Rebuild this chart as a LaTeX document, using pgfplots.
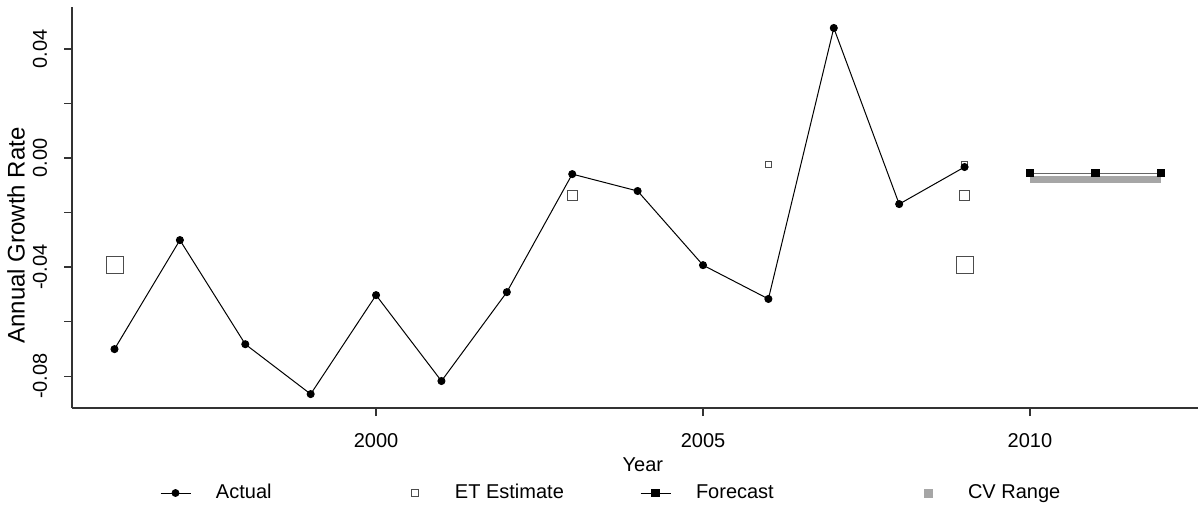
\documentclass[border=0pt]{standalone}
\usepackage{fontspec}
\setmainfont{Liberation Sans}
\usepackage{pgfplots}
\pgfplotsset{compat=1.18}
\definecolor{cvgray}{RGB}{166,166,166}
\begin{document}
\fontsize{10pt}{12pt}\selectfont
\begin{tikzpicture}
\useasboundingbox (-36pt,-51pt) rectangle (563pt,204pt);
\begin{axis}[
  at={(0,0)}, anchor=south west,
  scale only axis, width=563pt, height=200.5pt,
  xmin=1995.35, xmax=2012.57, ymin=-0.0917, ymax=0.0554,
  axis x line=bottom, axis y line=left,
  axis line style={-, black!80, line width=0.8pt},
  tick align=outside, major tick length=4pt,
  tick style={black!80, line width=0.6pt},
  scaled y ticks=false, scaled x ticks=false,
  xtick={2000,2005,2010}, xticklabels={2000,2005,2010},
  ytick={-0.08,-0.06,-0.04,-0.02,0,0.02,0.04},
  yticklabels={-0.08,{},-0.04,{},0.00,{},0.04},
  xticklabel style={anchor=center, inner sep=0pt, yshift=-12.5pt},
  yticklabel style={anchor=center, inner sep=0pt, xshift=-12pt, rotate=90},
  every axis y label/.style={at={(axis description cs:0,0.43)}, xshift=-28pt, rotate=90, anchor=center, font=\fontsize{12pt}{14pt}\selectfont},
  every axis x label/.style={at={(axis description cs:0.507,0)}, yshift=-28.5pt, anchor=center},
  xlabel={Year}, ylabel={Annual Growth Rate},
  clip=false,
  legend columns=4,
  legend style={draw=none, fill=none, inner sep=0pt, outer sep=0pt,
    at={(0,0)}, anchor=west, xshift=44pt, yshift=-42.5pt,
    nodes={inner sep=0pt},
    /tikz/every odd column/.style={column sep=12.5pt},
    /tikz/every even column/.style={column sep=0pt}},
]
% legend entries
\addlegendimage{legend image code/.code={
  \path[draw=none, fill=none] (0pt,-4pt) rectangle (15pt,4pt);
  \draw[black, line width=0.5pt] (0pt,0pt) -- (15pt,0pt);
  \fill[black] (7.5pt,0pt) circle (1.75pt);}}
\addlegendentry{\makebox[92pt][l]{Actual}}
\addlegendimage{legend image code/.code={
  \path[draw=none, fill=none] (0pt,-4pt) rectangle (15pt,4pt);
  \draw[black!70, line width=0.5pt, fill=white] (5.75pt,-1.75pt) rectangle (9.25pt,1.75pt);}}
\addlegendentry{\makebox[92.5pt][l]{ET Estimate}}
\addlegendimage{legend image code/.code={
  \path[draw=none, fill=none] (0pt,-4pt) rectangle (15pt,4pt);
  \draw[black, line width=0.5pt] (0pt,0pt) -- (15pt,0pt);
  \fill[black] (5.65pt,-1.85pt) rectangle (9.35pt,1.85pt);}}
\addlegendentry{\makebox[108.5pt][l]{Forecast}}
\addlegendimage{legend image code/.code={
  \path[draw=none, fill=none] (0pt,-4pt) rectangle (15pt,4pt);
  \fill[cvgray] (5.5pt,-2pt) rectangle (9.5pt,2pt);}}
\addlegendentry{CV Range}
% CV range band
\addplot[forget plot, fill=cvgray, draw=none] coordinates {(2010,-0.0066) (2012,-0.0066) (2012,-0.0092) (2010,-0.0092)} -- cycle;
% Forecast
\addplot[forget plot, black!60, line width=0.5pt, mark=square*, mark size=1.85pt,
  mark options={solid, fill=black, draw=black}] coordinates {(2010,-0.0055) (2011,-0.0055) (2012,-0.0055)};
% ET estimates
\addplot[forget plot, only marks, mark=square, mark size=4.25pt, mark options={draw=black!70, line width=0.5pt, fill=white}]
  coordinates {(1996,-0.0393) (2009,-0.0393)};
\addplot[forget plot, only marks, mark=square, mark size=2.5pt, mark options={draw=black!70, line width=0.5pt, fill=white}]
  coordinates {(2003,-0.0137) (2009,-0.0139)};
\addplot[forget plot, only marks, mark=square, mark size=1.5pt, mark options={draw=black!70, line width=0.5pt, fill=white}]
  coordinates {(2006,-0.0022) (2009,-0.0022)};
% Actual
\addplot[forget plot, black, line width=0.5pt, mark=*, mark size=1.75pt, mark options={solid, fill=black}]
  coordinates {
  (1996,-0.0701) (1997,-0.0301) (1998,-0.0683) (1999,-0.0866) (2000,-0.0503)
  (2001,-0.0818) (2002,-0.0492) (2003,-0.0059) (2004,-0.0121) (2005,-0.0393)
  (2006,-0.0517) (2007,0.0477) (2008,-0.0169) (2009,-0.0033)};
\end{axis}
\end{tikzpicture}
\end{document}
